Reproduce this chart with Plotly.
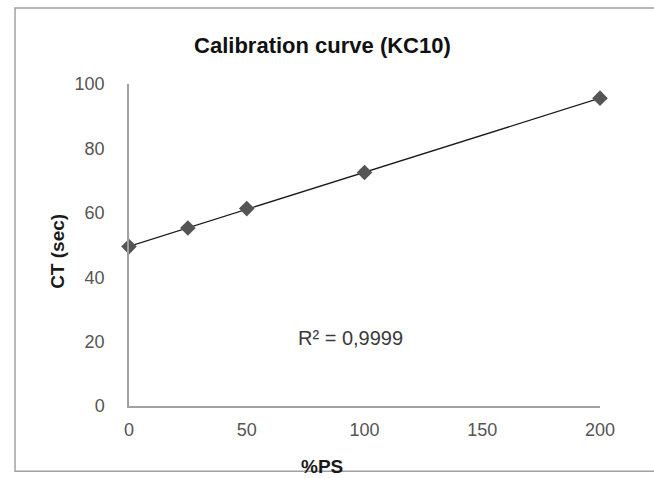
import numpy as np
import plotly.graph_objects as go

ps = [0, 25, 50, 100, 200]
ct = [49.5, 55.3, 61.3, 72.5, 95.6]
x_ticks = [0, 50, 100, 150, 200]
y_ticks = [0, 20, 40, 60, 80, 100]

slope, intercept = np.polyfit(ps, ct, 1)
fit_x = [min(ps), max(ps)]
fit_y = [slope * v + intercept for v in fit_x]

FONT = "Liberation Sans, Arial"

fig = go.Figure()
fig.add_trace(go.Scatter(x=fit_x, y=fit_y, mode="lines", cliponaxis=False,
                         line=dict(color="#1a1a1a", width=1.3), showlegend=False, hoverinfo="skip"))
fig.add_trace(go.Scatter(x=ps, y=ct, mode="markers", cliponaxis=False,
                         marker=dict(symbol="diamond", size=12, color="#555555"),
                         showlegend=False))

fig.add_annotation(x=94, y=21, text="R² = 0,9999", showarrow=False,
                   font=dict(family=FONT, size=20, color="#3a3a3a"))
fig.add_annotation(xref="paper", yref="paper", x=0.41, y=-0.1875, yanchor="middle",
                   text="<b>%PS</b>", showarrow=False,
                   font=dict(family=FONT, size=19, color="#1a1a1a"))
fig.add_annotation(xref="paper", yref="paper", x=-0.152, y=0.48, xanchor="center", yanchor="middle",
                   text="<b>CT (sec)</b>", textangle=-90, showarrow=False,
                   font=dict(family=FONT, size=19, color="#1a1a1a"))

fig.add_shape(type="rect", xref="paper", yref="paper", x0=-0.242, x1=1.25, y0=-0.203, y1=1.236,
              line=dict(color="#a0a0a0", width=1.5), fillcolor="rgba(0,0,0,0)", layer="below")

fig.update_layout(
    width=654, height=478,
    margin=dict(l=129, r=54, t=84, b=72),
    paper_bgcolor="white", plot_bgcolor="white",
    title=dict(text="<b>Calibration curve (KC10)</b>", x=0.493, xanchor="center", y=0.906, yanchor="middle",
               font=dict(family=FONT, size=22, color="#111111")),
    font=dict(family=FONT, color="#555555", size=18),
    xaxis=dict(range=[0, 200], tickvals=x_ticks, showgrid=False, zeroline=False, automargin=False,
               showline=True, linecolor="#a0a0a0", linewidth=1.5, ticks="",
               ticklabelstandoff=7, tickfont=dict(family=FONT, size=18, color="#555555")),
    yaxis=dict(range=[0, 100], tickvals=y_ticks, showgrid=False, zeroline=False, automargin=False,
               showline=True, linecolor="#a0a0a0", linewidth=1.5, ticks="",
               ticklabelstandoff=19, tickfont=dict(family=FONT, size=18, color="#555555")),
)

fig.write_html("out.html", config={"displayModeBar": False},
               post_script="document.body.style.margin='0';document.body.style.overflow='hidden';")
